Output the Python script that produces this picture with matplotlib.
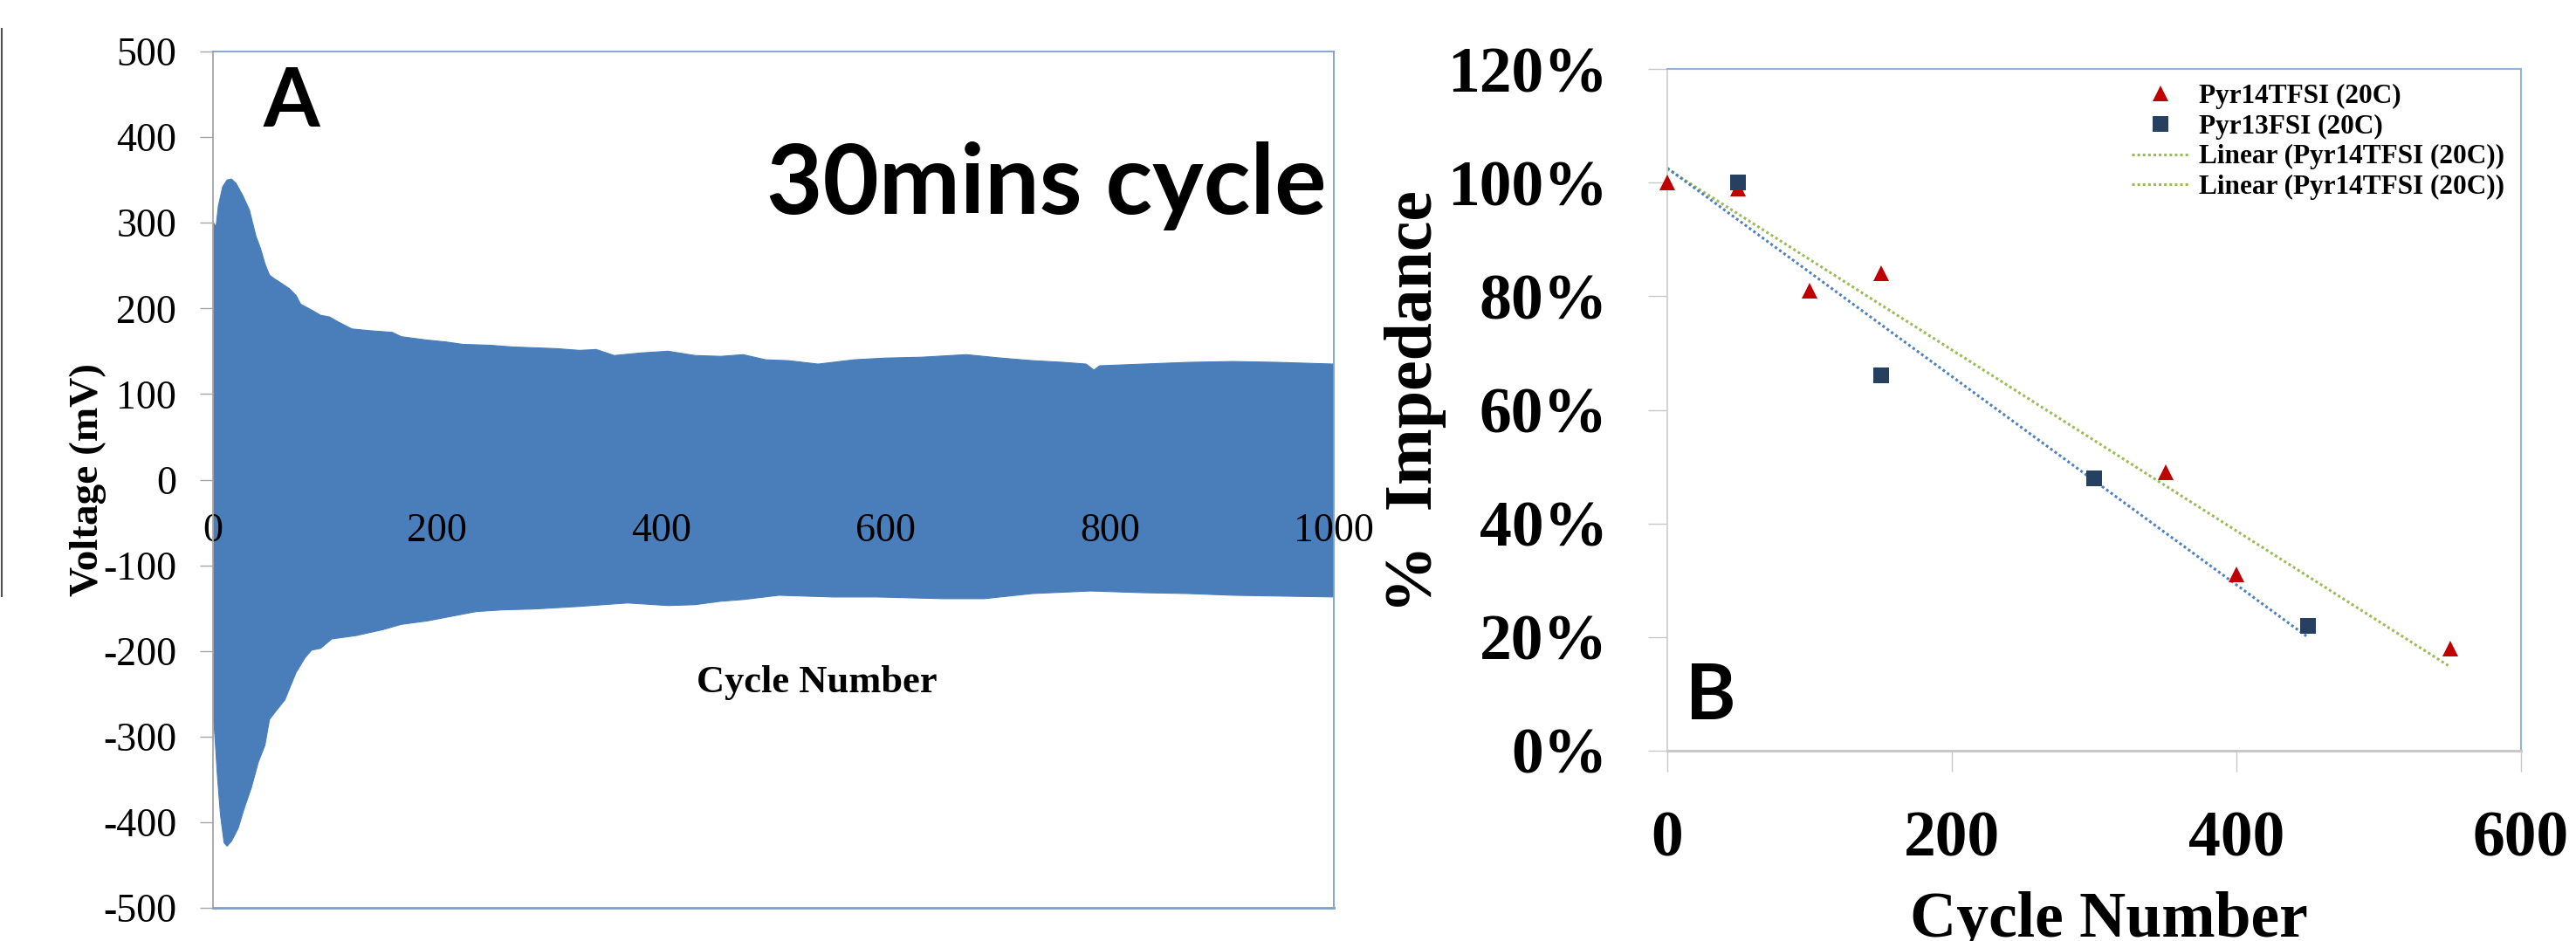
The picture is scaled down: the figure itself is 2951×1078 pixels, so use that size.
import matplotlib
matplotlib.use('Agg')
import matplotlib.pyplot as plt
from matplotlib.lines import Line2D
from matplotlib.ticker import PercentFormatter
import numpy as np

# ---- data: panel A (voltage envelope) ----
upper_cycle = [0, 2.7, 4.7, 8.6, 12.6, 16.6, 20.6, 26.5, 32.5, 38.4, 42.4, 46.4, 50.4,
               54.3, 60.3, 68.2, 74.2, 78.2, 88.1, 96, 104, 112, 124, 140, 160, 168,
               191, 207, 223, 247, 267, 307, 327, 342, 358, 382, 406, 430, 453, 473,
               493, 513, 540, 572, 600, 632, 672, 703, 731, 759, 779, 786, 791, 830,
               870, 910, 950, 1000]
upper_mv = [301, 295, 319, 342, 350, 351, 346, 332, 315, 284, 270, 252, 239,
            235, 230, 223, 215, 205, 198, 192, 190, 184, 176, 174, 172, 167,
            163, 161, 158, 157, 155, 153, 151, 152, 145, 148, 150, 145, 144, 146,
            140, 139, 135, 140, 142, 143, 146, 142, 139, 137, 135, 128, 133, 135,
            137, 138, 137, 135]

lower_cycle = [0, 2, 4, 6.7, 9.9, 12.6, 16.6, 22.5, 27.6, 34.4, 40.4, 46.4, 50.4,
               56.3, 64.2, 68.2, 74.2, 82.1, 88.1, 96, 106, 128, 152, 168, 191,
               207, 235, 259, 287, 327, 370, 406, 430, 453, 473, 505, 553, 592,
               652, 688, 731, 783, 830, 870, 910, 1000]
lower_mv = [-268, -306, -347, -392, -424, -428, -422, -407, -385, -359, -330, -310, -280,
            -270, -257, -244, -225, -208, -199, -197, -186, -182, -175, -169, -165,
            -161, -154, -152, -151, -148, -144, -147, -146, -142, -140, -135, -137, -137,
            -139, -139, -133, -130, -132, -133, -135, -137]

# ---- data: panel B (impedance vs cycle) ----
pyr14_cycle = [0, 50, 100, 150, 350, 400, 550]
pyr14_imp = [1.00, 0.99, 0.81, 0.84, 0.49, 0.31, 0.18]
pyr13_cycle = [50, 150, 300, 450]
pyr13_imp = [1.00, 0.66, 0.48, 0.22]

left_yticks = np.arange(-500, 501, 100)
left_xticks = [0, 200, 400, 600, 800, 1000]
right_xticks = [0, 200, 400, 600]
right_yticks = [0, 0.2, 0.4, 0.6, 0.8, 1.0, 1.2]
legend_labels = ['Pyr14TFSI (20C)', 'Pyr13FSI (20C)',
                 'Linear (Pyr14TFSI (20C))', 'Linear (Pyr14TFSI (20C))']

W, H = 2951, 1078
plt.rcParams['axes.unicode_minus'] = False
serif = 'Liberation Serif'

fig = plt.figure(figsize=(W / 100, H / 100), dpi=100)

# ================= Panel A =================
ax1 = fig.add_axes([244 / W, 1 - 1040 / H, (1528 - 244) / W, (1040 - 59) / H])
xs = np.concatenate([upper_cycle, lower_cycle[::-1]])
ys = np.concatenate([upper_mv, lower_mv[::-1]])
ax1.fill(xs, ys, color='#4A7EBB', lw=0.8, ec='#4A7EBB', zorder=1)

ax1.set_xlim(0, 1000)
ax1.set_ylim(-500, 500)
ax1.set_yticks(left_yticks)
ax1.set_xticks(left_xticks)

ax1.spines['bottom'].set_position(('data', 0))
ax1.spines['bottom'].set_visible(False)
ax1.spines['left'].set_color('#A6A6A6')
ax1.spines['left'].set_linewidth(1.3)
for s in ['top', 'right']:
    ax1.spines[s].set_color('#7FA0CA')
    ax1.spines[s].set_linewidth(1.3)
ax1.axhline(-500, color='#7FA0CA', lw=2.0, clip_on=False, zorder=3)

ax1.tick_params(axis='y', length=11, width=1, color='#A6A6A6', pad=19,
                labelsize=33, labelfontfamily=serif)
ax1.tick_params(axis='x', length=0, pad=27, labelsize=33, labelfontfamily=serif)

ax1.set_ylabel('Voltage (mV)', family=serif, weight='bold', fontsize=34)
ax1.yaxis.set_label_coords(-0.095, 0.5)
ax1.set_xlabel('Cycle Number', family=serif, weight='bold', fontsize=32)
ax1.xaxis.set_label_coords((936 - 244) / 1284, (1040 - 762) / 981)

fig.text(302 / W, 1 - 145 / H, 'A', family='Lato', weight='bold', fontsize=67,
         ha='left', va='baseline')
fig.text(878 / W, 1 - 245 / H, '30mins cycle', family='Lato', weight='bold',
         fontsize=80, ha='left', va='baseline')

# scrap of a neighbouring frame at the far left edge
fig.add_artist(Line2D([1.5 / W, 1.5 / W], [1 - 33 / H, 1 - 683 / H],
                      color='#505050', lw=1.5))

# ================= Panel B =================
ax2 = fig.add_axes([1910 / W, 1 - 860 / H, (2888 - 1910) / W, (860 - 79) / H])

for xv, yv, col, label in [(pyr14_cycle, pyr14_imp, '#9BBB59', legend_labels[2]),
                           (pyr13_cycle, pyr13_imp, '#4F81BD', None)]:
    k, b = np.polyfit(xv, yv, 1)
    xr = np.array([0, max(xv)])
    ax2.plot(xr, k * xr + b, color=col, lw=2.2, ls=(0, (1, 1)), zorder=2)

ax2.plot(pyr14_cycle, pyr14_imp, '^', color='#C00000', ms=13, mew=0, zorder=3,
         clip_on=False)
ax2.plot(pyr13_cycle, pyr13_imp, 's', color='#254061', ms=13, mew=0, zorder=4,
         clip_on=False)

ax2.set_xlim(0, 600)
ax2.set_ylim(0, 1.2)
ax2.set_xticks(right_xticks)
ax2.set_yticks(right_yticks)
ax2.yaxis.set_major_formatter(PercentFormatter(xmax=1, decimals=0))

ax2.spines['left'].set_color('#D0D0D0')
ax2.spines['left'].set_linewidth(1.3)
ax2.spines['bottom'].set_color('#C8C8C8')
ax2.spines['bottom'].set_linewidth(2.2)
for s in ['top', 'right']:
    ax2.spines[s].set_color('#8EB4E3')
    ax2.spines[s].set_linewidth(1.5)

ax2.tick_params(axis='y', length=16, width=1, color='#C8C8C8', pad=33,
                labelsize=53, labelfontfamily=serif)
ax2.tick_params(axis='x', length=17, width=1, color='#C8C8C8', pad=32,
                labelsize=53, labelfontfamily=serif)
for lab in ax2.get_xticklabels() + ax2.get_yticklabels():
    lab.set_fontweight('bold')

ax2.set_ylabel('%  Impedance', family=serif, weight='bold', fontsize=56)
ax2.yaxis.set_label_coords((1657 - 1910) / 978, (860 - 460) / 781)
ax2.set_xlabel('Cycle Number', family=serif, weight='bold', fontsize=53)
ax2.xaxis.set_label_coords((2416 - 1910) / 978, (860 - 1021) / 781)

fig.text(1931 / W, 1 - 824 / H, 'B', family='Lato', weight='bold', fontsize=63,
         ha='left', va='baseline')

handles = [Line2D([], [], marker='^', ls='none', color='#C00000', ms=13, mew=0),
           Line2D([], [], marker='s', ls='none', color='#254061', ms=13, mew=0),
           Line2D([], [], color='#9BBB59', lw=2.2, ls=(0, (1, 1))),
           Line2D([], [], color='#9BBB59', lw=2.2, ls=(0, (1, 1)))]
fig.legend(handles, legend_labels, loc='upper left',
           bbox_to_anchor=(2442 / W, 1 - 96 / H), frameon=False, borderpad=0,
           handlelength=2.1, handletextpad=0.36, labelspacing=0.18,
           borderaxespad=0, numpoints=1,
           prop=dict(family=serif, weight='bold', size=22.5))

fig.savefig('out.png', dpi=100)
